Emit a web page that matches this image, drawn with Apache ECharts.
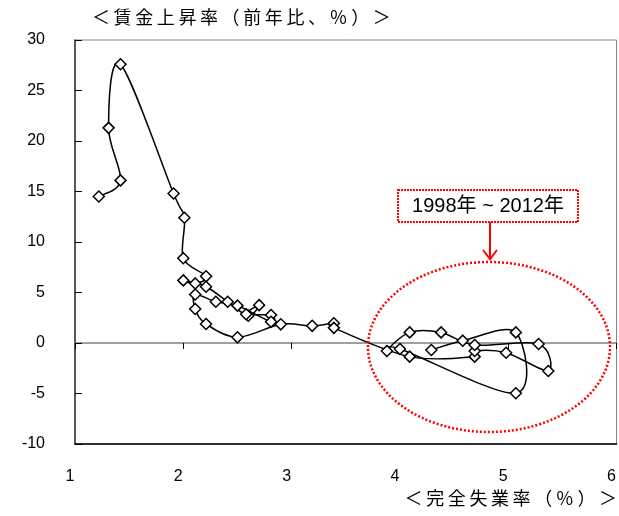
<!DOCTYPE html>
<html>
<head>
<meta charset="utf-8">
<script src="https://cdn.jsdelivr.net/npm/echarts@6/dist/echarts.min.js"></script>
<style>
  html, body { margin: 0; padding: 0; background: #fff; }
  #chart { width: 619px; height: 516px; }
</style>
</head>
<body>
<div id="chart"></div>
<script>
// 完全失業率 (%) と 賃金上昇率 (前年比, %)  1971年〜2012年
const unemp = [1.22, 1.42, 1.31, 1.42, 1.91, 2.01,
  2.0, 2.21, 2.11, 2.0, 2.21, 2.41, 2.6, 2.7, 2.58, 2.81, 2.81, 2.5, 2.3, 2.11, 2.11,
  2.21, 2.5, 2.9, 3.19, 3.39, 3.39,
  4.09, 4.69, 4.69, 4.98, 5.37, 5.28, 4.69, 4.38, 4.09, 3.88, 4.0, 5.07, 5.07, 4.58, 4.29]
const wage = [14.5, 16.1, 21.3, 27.6, 14.8, 12.4,
  8.4, 6.6, 5.9, 6.2, 5.57, 4.08, 2.7, 3.75, 2.85, 2.77, 2.1, 3.7, 4.08, 4.8, 3.36,
  1.88, 0.56, 1.85, 1.7, 1.95, 1.5,
  -1.35, -1.35, -0.79, -0.96, -2.77, -0.1, -0.2, 1.05, 1.05, -0.79, -0.59, -4.97, 1.05, 0.23, -0.69]
const yName = '＜\u2009賃\u2009金\u2009上\u2009昇\u2009率\u2009（\u2009前\u2009年\u2009比\u2009、\u2009％\u2009）\u2009＞'
const xName = '＜\u2009完\u2009全\u2009失\u2009業\u2009率\u2009（\u2009％\u2009）\u2009＞'
const noteText = '1998年 ~ 2012年'

const chart = echarts.init(document.getElementById('chart'))
const numFont = { fontFamily: 'Liberation Sans, Arial, sans-serif', fontSize: 16, color: '#000' }
const jpFont = 'Noto Sans CJK JP, sans-serif'
const points = unemp.map((u, i) => [u, wage[i]])

// Excel 風のなめらかな線 (Catmull-Rom) : 区間 i → i+1 を描く
function renderSegment(params, api) {
  const i = params.dataIndex
  if (i >= points.length - 1) return null
  const p = k => api.coord(points[Math.max(0, Math.min(points.length - 1, k))])
  const p0 = p(i - 1), p1 = p(i), p2 = p(i + 1), p3 = p(i + 2)
  const t = 1 / 6
  return {
    type: 'bezierCurve',
    shape: {
      x1: p1[0], y1: p1[1], x2: p2[0], y2: p2[1],
      cpx1: p1[0] + (p2[0] - p0[0]) * t, cpy1: p1[1] + (p2[1] - p0[1]) * t,
      cpx2: p2[0] - (p3[0] - p1[0]) * t, cpy2: p2[1] - (p3[1] - p1[1]) * t
    },
    style: { stroke: '#000', lineWidth: 1.5, fill: null }
  }
}

chart.setOption({
  animation: false,
  backgroundColor: '#fff',
  grid: { left: 75, top: 40, right: -3, bottom: 72, show: true, borderColor: '#808080', borderWidth: 1 },
  xAxis: [
    {
      type: 'value', min: 1, max: 6, interval: 1,
      axisLine: { onZero: false, lineStyle: { color: '#000', width: 1.5 } },
      axisTick: { show: false },
      splitLine: { show: false },
      axisLabel: { ...numFont, margin: 25, padding: [0, 10, 0, 0] }
    },
    {
      type: 'value', min: 1, max: 6, interval: 1,
      axisLine: { onZero: true, lineStyle: { color: '#808080', width: 1.5 } },
      axisTick: { inside: true, length: 6, lineStyle: { color: '#000' } },
      axisLabel: { show: false },
      splitLine: { show: false }
    }
  ],
  yAxis: {
    type: 'value', min: -10, max: 30, interval: 5,
    axisLine: { show: true, lineStyle: { color: '#333', width: 1.5 } },
    axisTick: { show: true, inside: true, length: 7, lineStyle: { color: '#000' } },
    splitLine: { show: false },
    axisLabel: { ...numFont, margin: 30 }
  },
  series: [
    {
      type: 'custom',
      renderItem: renderSegment,
      data: points,
      clip: true,
      z: 4
    },
    {
      type: 'scatter',
      data: points,
      symbol: 'diamond',
      symbolSize: 11,
      itemStyle: { color: '#fff', borderColor: '#000', borderWidth: 1.5, opacity: 1 },
      z: 5
    }
  ],
  graphic: [
    { type: 'text', left: 92, top: 8, style: { text: yName, font: '18px ' + jpFont, fill: '#000' } },
    { type: 'text', right: 2, top: 489, style: { text: xName, font: '18px ' + jpFont, fill: '#000' } },
    {
      type: 'rect', shape: { x: 398, y: 190, width: 180, height: 32 },
      style: { fill: '#fff', stroke: '#f00', lineWidth: 2, lineDash: [2, 1] }, z: 10
    },
    {
      type: 'text', x: 488, y: 206, z: 11,
      style: { text: noteText, font: '20px Liberation Sans, Noto Sans CJK JP, sans-serif', fill: '#000', align: 'center', verticalAlign: 'middle' }
    },
    {
      type: 'line', shape: { x1: 490, y1: 222, x2: 490, y2: 259 },
      style: { stroke: '#f00', lineWidth: 2 }, z: 10
    },
    {
      type: 'polyline', shape: { points: [[483, 250], [490, 259], [497, 250]] },
      style: { stroke: '#f00', lineWidth: 2, fill: null }, z: 10
    },
    {
      type: 'ellipse', shape: { cx: 489, cy: 347, rx: 121, ry: 85 },
      style: { fill: null, stroke: '#f00', lineWidth: 2.5, lineDash: [2, 2] }, z: 10
    }
  ]
})
</script>
</body>
</html>
